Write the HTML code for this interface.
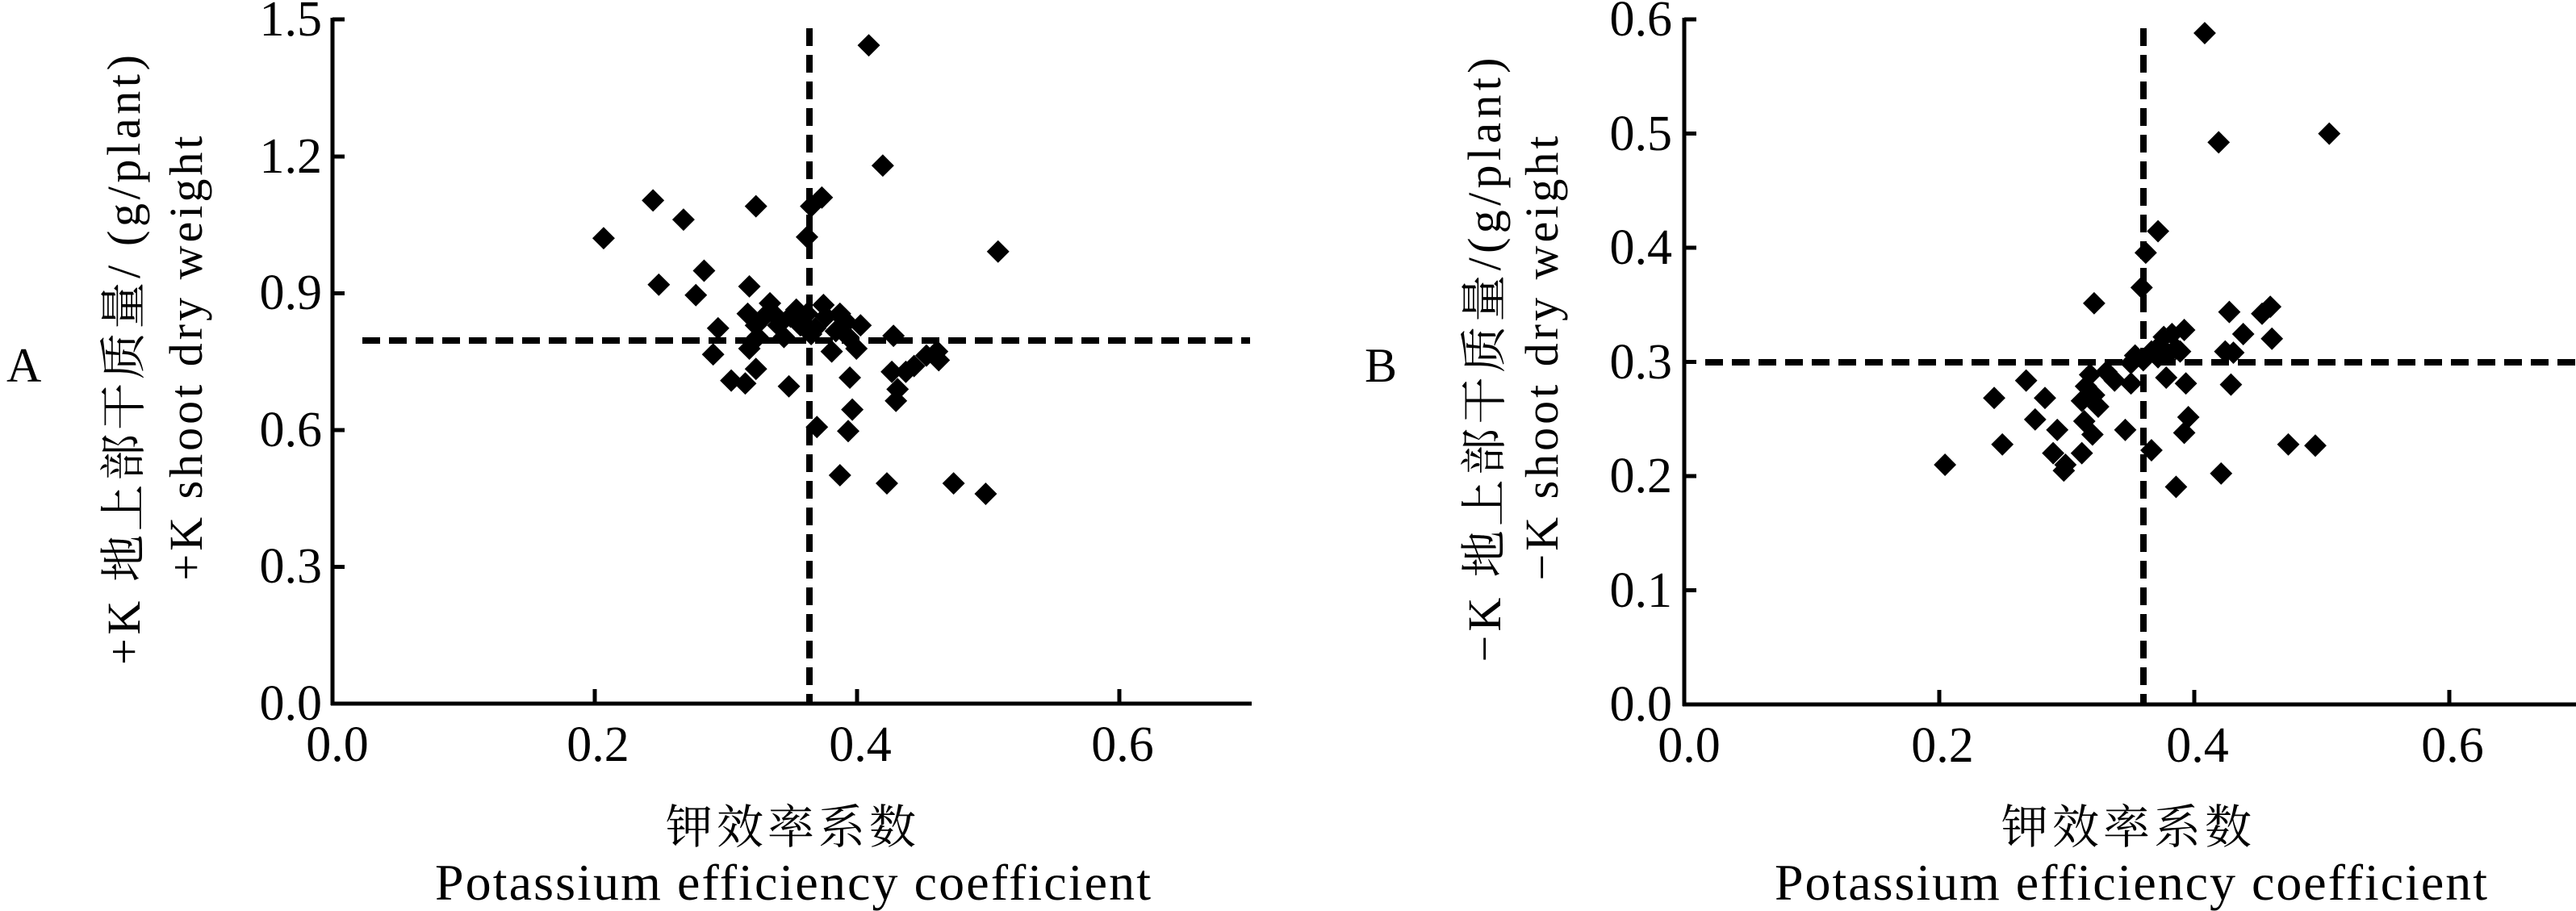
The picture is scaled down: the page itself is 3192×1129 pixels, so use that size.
<!DOCTYPE html>
<html><head><meta charset="utf-8"><style>html,body{margin:0;padding:0;background:#fff}svg{display:block}svg text{font-family:"Liberation Serif","Noto Serif CJK SC",serif}</style></head>
<body>
<svg width="3192" height="1129" viewBox="0 0 3192 1129" xmlns="http://www.w3.org/2000/svg" fill="#000">
<defs><path id="d" d="M0,-19.4 L13.7,0 L0,19.4 L-13.7,0Z"/></defs>

<!-- Panel A -->
<text x="8" y="473" font-size="60">A</text>
<g stroke="#000" stroke-width="5" fill="none">
<path d="M412,22 V874 M410,872 H1551"/>
<path d="M412,702.5h15 M412,533h15 M412,363.5h15 M412,194h15 M412,24h15"/>
<path d="M737,872v-18 M1062,872v-18 M1387,872v-18"/>
</g>
<g stroke="#000" stroke-width="8" stroke-dasharray="22,11">
<path d="M1003,35 V872"/>
<path d="M449,422 H1549"/>
</g>
<g font-size="62" text-anchor="end">
<text x="399" y="892">0.0</text><text x="399" y="722">0.3</text><text x="399" y="553">0.6</text>
<text x="399" y="383">0.9</text><text x="399" y="214">1.2</text><text x="399" y="44">1.5</text>
</g>
<g font-size="62" text-anchor="middle">
<text x="418" y="943">0.0</text><text x="741" y="943">0.2</text><text x="1066" y="943">0.4</text><text x="1391" y="943">0.6</text>
</g>
<text x="980" y="1045" font-size="58" text-anchor="middle" textLength="310">钾效率系数</text>
<text x="539" y="1115" font-size="64" textLength="887">Potassium efficiency coefficient</text>
<text transform="translate(173,446) rotate(-90)" font-size="58" text-anchor="middle" textLength="756">+K 地上部干质量/ (g/plant)</text>
<text transform="translate(250,444) rotate(-90)" font-size="58" text-anchor="middle" textLength="551">+K shoot dry weight</text>
<g transform="scale(1.0204,0.72)">
<use href="#d" x="733" y="410"/><use href="#d" x="793" y="345"/><use href="#d" x="830" y="378"/><use href="#d" x="918" y="355"/>
<use href="#d" x="800" y="490"/><use href="#d" x="855" y="466"/><use href="#d" x="845" y="508"/><use href="#d" x="910" y="493"/>
<use href="#d" x="872" y="565"/><use href="#d" x="866" y="610"/><use href="#d" x="908" y="540"/><use href="#d" x="918" y="560"/>
<use href="#d" x="935" y="522"/><use href="#d" x="943" y="545"/><use href="#d" x="888" y="655"/><use href="#d" x="905" y="660"/>
<use href="#d" x="918" y="635"/><use href="#d" x="958" y="665"/><use href="#d" x="910" y="600"/><use href="#d" x="920" y="580"/>
<use href="#d" x="967" y="533"/><use href="#d" x="972" y="560"/><use href="#d" x="980" y="540"/><use href="#d" x="990" y="565"/>
<use href="#d" x="1000" y="525"/><use href="#d" x="1003" y="545"/><use href="#d" x="980" y="408"/><use href="#d" x="985" y="355"/>
<use href="#d" x="998" y="340"/><use href="#d" x="1055" y="78"/><use href="#d" x="1072" y="285"/><use href="#d" x="1212" y="433"/>
<use href="#d" x="1025" y="550"/><use href="#d" x="1030" y="580"/><use href="#d" x="1010" y="605"/><use href="#d" x="1040" y="600"/>
<use href="#d" x="1032" y="650"/><use href="#d" x="1035" y="705"/><use href="#d" x="1030" y="742"/><use href="#d" x="992" y="735"/>
<use href="#d" x="1020" y="818"/><use href="#d" x="1077" y="832"/><use href="#d" x="1158" y="832"/><use href="#d" x="1197" y="850"/>
<use href="#d" x="1085" y="578"/><use href="#d" x="1083" y="640"/><use href="#d" x="1088" y="690"/><use href="#d" x="1090" y="670"/>
<use href="#d" x="1100" y="640"/><use href="#d" x="1110" y="630"/><use href="#d" x="1125" y="612"/><use href="#d" x="1138" y="605"/>
<use href="#d" x="1140" y="620"/><use href="#d" x="1015" y="570"/><use href="#d" x="1028" y="555"/><use href="#d" x="975" y="555"/>
<use href="#d" x="960" y="545"/><use href="#d" x="952" y="580"/><use href="#d" x="928" y="545"/>
<use href="#d" x="1020" y="540"/><use href="#d" x="985" y="575"/><use href="#d" x="945" y="560"/><use href="#d" x="1045" y="560"/>
</g>

<!-- Panel B -->
<text x="1691" y="473" font-size="60">B</text>
<g stroke="#000" stroke-width="5" fill="none">
<path d="M2087,22 V875 M2085,873 H3192"/>
<path d="M2087,731.5h15 M2087,590h15 M2087,448.5h15 M2087,307h15 M2087,165.5h15 M2087,24h15"/>
<path d="M2403,873v-18 M2719,873v-18 M3035,873v-18"/>
</g>
<g stroke="#000" stroke-width="8" stroke-dasharray="22,11">
<path d="M2656,35 V873"/>
<path d="M2113,449 H3192"/>
</g>
<g font-size="62" text-anchor="end">
<text x="2072" y="893">0.0</text><text x="2072" y="752">0.1</text><text x="2072" y="610">0.2</text>
<text x="2072" y="469">0.3</text><text x="2072" y="327">0.4</text><text x="2072" y="186">0.5</text><text x="2072" y="44">0.6</text>
</g>
<g font-size="62" text-anchor="middle">
<text x="2093" y="944">0.0</text><text x="2407" y="944">0.2</text><text x="2723" y="944">0.4</text><text x="3039" y="944">0.6</text>
</g>
<text x="2635" y="1045" font-size="58" text-anchor="middle" textLength="310">钾效率系数</text>
<text x="2199" y="1115" font-size="64" textLength="883">Potassium efficiency coefficient</text>
<text transform="translate(1859,446) rotate(-90)" font-size="58" text-anchor="middle" textLength="749">−K 地上部干质量/(g/plant)</text>
<text transform="translate(1930,444) rotate(-90)" font-size="58" text-anchor="middle" textLength="551">−K shoot dry weight</text>
<g transform="translate(1600,0) scale(1.0152,0.72)">
<use href="#d" x="1115" y="57"/><use href="#d" x="1132" y="245"/><use href="#d" x="1267" y="230"/><use href="#d" x="1058" y="398"/>
<use href="#d" x="1043" y="435"/><use href="#d" x="1038" y="495"/><use href="#d" x="980" y="522"/><use href="#d" x="1145" y="537"/>
<use href="#d" x="1195" y="528"/><use href="#d" x="1185" y="540"/><use href="#d" x="1162" y="575"/><use href="#d" x="1197" y="583"/>
<use href="#d" x="1140" y="605"/><use href="#d" x="1150" y="607"/><use href="#d" x="1090" y="568"/><use href="#d" x="1075" y="575"/>
<use href="#d" x="1065" y="580"/><use href="#d" x="1060" y="595"/><use href="#d" x="1080" y="600"/><use href="#d" x="1085" y="605"/>
<use href="#d" x="1070" y="610"/><use href="#d" x="1050" y="605"/><use href="#d" x="1030" y="612"/><use href="#d" x="1025" y="625"/>
<use href="#d" x="1025" y="660"/><use href="#d" x="1005" y="655"/><use href="#d" x="995" y="640"/><use href="#d" x="975" y="645"/>
<use href="#d" x="970" y="665"/><use href="#d" x="980" y="680"/><use href="#d" x="965" y="690"/><use href="#d" x="985" y="700"/>
<use href="#d" x="1068" y="650"/><use href="#d" x="1092" y="660"/><use href="#d" x="1147" y="662"/><use href="#d" x="1095" y="718"/>
<use href="#d" x="1090" y="745"/><use href="#d" x="1018" y="740"/><use href="#d" x="1050" y="775"/><use href="#d" x="1080" y="838"/>
<use href="#d" x="1135" y="815"/><use href="#d" x="1217" y="765"/><use href="#d" x="1250" y="767"/><use href="#d" x="858" y="685"/>
<use href="#d" x="897" y="655"/><use href="#d" x="920" y="685"/><use href="#d" x="908" y="722"/><use href="#d" x="935" y="740"/>
<use href="#d" x="868" y="765"/><use href="#d" x="930" y="780"/><use href="#d" x="945" y="800"/><use href="#d" x="965" y="780"/>
<use href="#d" x="943" y="810"/><use href="#d" x="968" y="725"/><use href="#d" x="978" y="748"/><use href="#d" x="798" y="800"/>
<use href="#d" x="1040" y="620"/><use href="#d" x="1058" y="615"/>
</g>
</svg>
</body></html>
